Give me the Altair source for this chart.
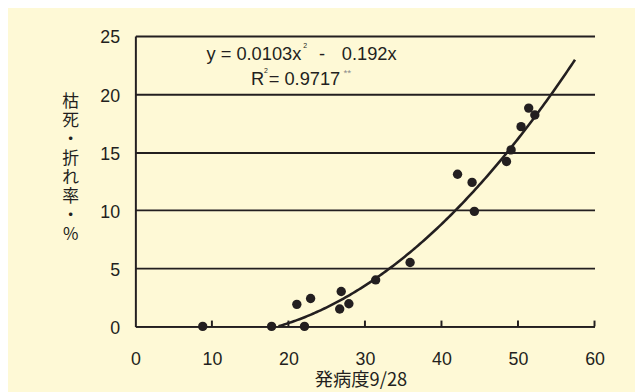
import altair as alt
import pandas as pd

# Scatter data (発病度 vs 枯死・折れ率)
disease_x = [8.8, 17.8, 22.1, 21.1, 22.9, 26.9, 26.7, 27.9, 31.4, 35.9,
             42.1, 44.0, 44.3, 48.5, 49.1, 50.4, 51.4, 52.2]
death_y = [0.0, 0.0, 0.0, 1.9, 2.4, 3.0, 1.5, 1.95, 4.0, 5.5,
           13.1, 12.4, 9.9, 14.2, 15.2, 17.2, 18.8, 18.2]

# Regression y = a x^2 + b x (as printed on the chart)
coef_a = 0.0103
coef_b = -0.192
curve_start = 18.7
curve_end = 57.6

x_ticks = [0, 10, 20, 30, 40, 50, 60]
y_ticks = [0, 5, 10, 15, 20, 25]
inner_ticks = [10, 20, 30, 40, 50, 60]

INK = "#231F20"
BG = "#FEF9D6"
NUM_FONT = "Liberation Sans"
CJK_FONT = "Noto Sans CJK JP"

pts = pd.DataFrame({"x": disease_x, "y": death_y})
ticks_df = pd.DataFrame({"t": inner_ticks})

xscale = alt.Scale(domain=[0, 60], nice=False, zero=False)
yscale = alt.Scale(domain=[0, 25], nice=False, zero=False)

xaxis = alt.Axis(
    values=x_ticks, grid=False, ticks=False, tickSize=0,
    domain=True, domainColor=INK, domainWidth=2,
    labelFont=NUM_FONT, labelFontSize=18, labelColor=INK,
    labelPadding=25, labelFlush=False, labelOverlap=False,
    title="発病度9/28", titleFont=CJK_FONT, titleFontSize=18.5,
    titleFontWeight="normal", titleColor=INK,
    titleX=228, titleY=54, titleAlign="center", titleBaseline="middle")
yaxis = alt.Axis(
    values=y_ticks, grid=True, gridColor=INK, gridWidth=2, gridOpacity=1,
    ticks=False, tickSize=0,
    domain=True, domainColor=INK, domainWidth=2,
    labelFont=NUM_FONT, labelFontSize=18, labelColor=INK,
    labelPadding=16, labelOverlap=False, labelOffset=2,
    title=["枯", "死", "・", "折", "れ", "率", "・", "%"],
    titleAngle=0, titleFont=CJK_FONT, titleFontSize=17,
    titleFontWeight="normal", titleColor=INK, titleLineHeight=19.2,
    titleX=-66, titleY=66.5, titleAlign="center", titleBaseline="middle")

points = alt.Chart(pts).mark_circle(size=90, color=INK, opacity=1).encode(
    x=alt.X("x:Q", scale=xscale, axis=xaxis),
    y=alt.Y("y:Q", scale=yscale, axis=yaxis),
)

curve = alt.Chart(alt.sequence(curve_start, curve_end + 0.01, 0.25, as_="x")).transform_calculate(
    y=f"{coef_a}*datum.x*datum.x + ({coef_b})*datum.x"
).mark_line(color=INK, strokeWidth=2.6).encode(
    x=alt.X("x:Q", scale=xscale, axis=xaxis),
    y=alt.Y("y:Q", scale=yscale, axis=yaxis),
)

tick_rules = alt.Chart(ticks_df).mark_rule(color=INK, strokeWidth=2).encode(
    x=alt.X("t:Q", scale=xscale, axis=xaxis),
    y=alt.YDatum(0, scale=yscale, axis=yaxis),
    y2=alt.Y2Datum(0.5),
)


def label(text, x, y, size=18.5, color=INK):
    return alt.Chart(pts).transform_filter("datum.x == 8.8").mark_text(
        text=text, font=NUM_FONT, fontSize=size, color=color,
        align="left", baseline="alphabetic"
    ).encode(x=alt.XDatum(x, scale=xscale, axis=xaxis),
             y=alt.YDatum(y, scale=yscale, axis=yaxis))


eq = [
    label("y = 0.0103x", 9.29, 22.96),
    label("2", 21.94, 24.0, size=7),
    label("-", 24.0, 22.96),
    label("0.192x", 26.97, 22.96),
    label("R", 15.1, 20.83),
    label("2", 16.8, 21.85, size=7),
    label("= 0.9717", 17.42, 20.83),
    label("**", 27.2, 21.6, size=10, color="#8a8a8a"),
]

chart = alt.layer(points, curve, tick_rules, *eq).properties(
    width=465, height=294,
    autosize=alt.AutoSizeParams(type="none"),
    padding={"left": 129, "top": 26, "right": 41, "bottom": 64},
).configure(background=BG).configure_view(stroke=None)

chart.save("out.html", embed_options={"renderer": "svg", "actions": False})
